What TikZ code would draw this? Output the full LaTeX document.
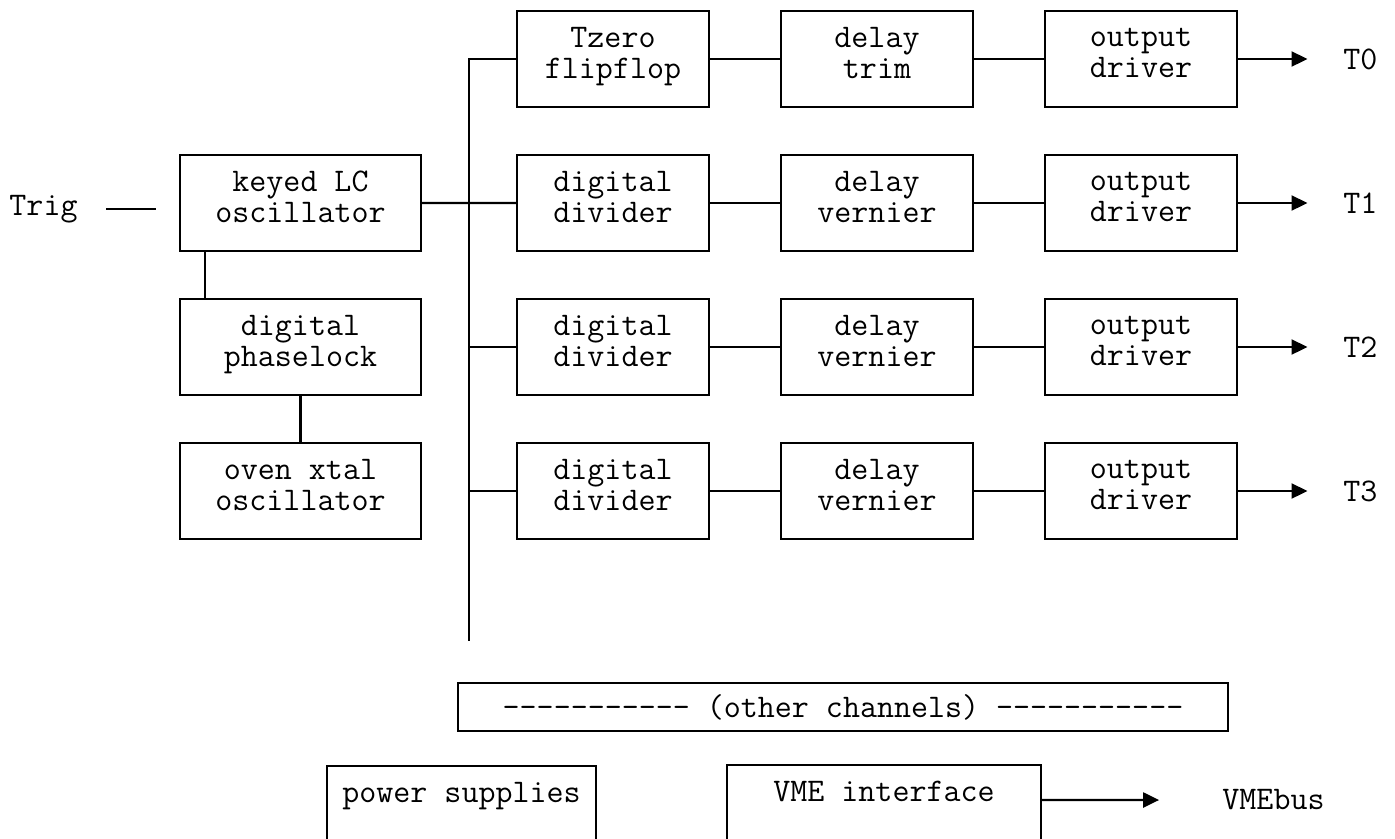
\documentclass[tikz,border=0pt]{standalone}
\usepackage{fontspec}
\usetikzlibrary{arrows.meta,positioning}

\begin{document}
\begin{tikzpicture}[
        font=\ttfamily\fontsize{18.8}{17.4}\selectfont,
        node distance=9.6mm and 14.4mm,
        blk/.style={draw, line width=1.3pt, outer sep=0pt, minimum height=19.2mm,
                    minimum width=3.84cm, align=center,
                    execute at begin node=\strut,
                    execute at end node={\rule[-7pt]{0pt}{0pt}}},
        wide/.style={blk, minimum width=4.82cm},
        w/.style={line width=1.3pt},
        a/.style={w, -{Triangle[length=3.2mm, width=3mm]}},
        lbl/.style={inner sep=0pt}
      ]
        \useasboundingbox (0,0) rectangle (27.9,-16.76);
        % clock section
        \node[wide] (osc) at (6.01,-4.06) {keyed LC\\oscillator};
        \node[wide, below=of osc] (pll)  {digital\\phaselock};
        \node[wide, below=of pll] (xtal) {oven xtal\\oscillator};
        \node[lbl] (trig) at (0.87,-4.18) {Trig};
        \draw[w, shorten <=5.7mm, shorten >=4.8mm] (trig.east) -- (trig.east -| osc.west);
        \draw[w] ([xshift=5mm]osc.south west) -- ([xshift=5mm]pll.north west);
        \draw[w] (pll) -- (xtal);

        % channels
        \node[blk] (tz) at (12.26,-1.18) {Tzero\\flipflop};
        \node[blk, right=of tz]   (trim) {delay\\trim};
        \node[blk, right=of trim] (out0) {output\\driver};
        \node[blk, below=of tz]   (div1) {digital\\divider};
        \node[blk, right=of div1] (ver1) {delay\\vernier};
        \node[blk, right=of ver1] (out1) {output\\driver};
        \node[blk, below=of div1] (div2) {digital\\divider};
        \node[blk, right=of div2] (ver2) {delay\\vernier};
        \node[blk, right=of ver2] (out2) {output\\driver};
        \node[blk, below=of div2] (div3) {digital\\divider};
        \node[blk, right=of div3] (ver3) {delay\\vernier};
        \node[blk, right=of ver3] (out3) {output\\driver};

        \node[lbl, right=21.2mm of out0] (t0) {T0};
        \node[lbl, right=21.2mm of out1] (t1) {T1};
        \node[lbl, right=21.2mm of out2] (t2) {T2};
        \node[lbl, right=21.2mm of out3] (t3) {T3};

        % clock bus
        \coordinate (busend) at (9.38,-12.82);
        \draw[w] (tz) -| (busend);
        \draw[w] (osc) -- (div1);
        \draw[w] (div2) -- (div2 -| busend);
        \draw[w] (div3) -- (div3 -| busend);

        \draw[w] (tz) -- (trim);   \draw[w] (trim) -- (out0);
        \draw[w] (div1) -- (ver1); \draw[w] (ver1) -- (out1);
        \draw[w] (div2) -- (ver2); \draw[w] (ver2) -- (out2);
        \draw[w] (div3) -- (ver3); \draw[w] (ver3) -- (out3);
        \draw[a, shorten >=7.1mm] (out0) -- (t0);
        \draw[a, shorten >=7.1mm] (out1) -- (t1);
        \draw[a, shorten >=7.1mm] (out2) -- (t2);
        \draw[a, shorten >=7.1mm] (out3) -- (t3);

        % crate side
        \node[draw, w, minimum width=15.4cm, minimum height=9.6mm] (oth) at (16.86,-14.14)
              {----------- (other channels) -----------};
        \node[blk, minimum width=5.38cm] (pwr) at (9.23,-16.28) {power supplies\\\mbox{}};
        \node[blk, minimum width=6.28cm] (vme) at (17.68,-16.26) {VME interface\\\mbox{}};
        \node[lbl] (vmebus) at (25.47,-16.0) {VMEbus};
        \draw[a, shorten >=12.6mm] ([yshift=2.6mm]vme.east) -- (vmebus.west);
      \end{tikzpicture}
\end{document}
